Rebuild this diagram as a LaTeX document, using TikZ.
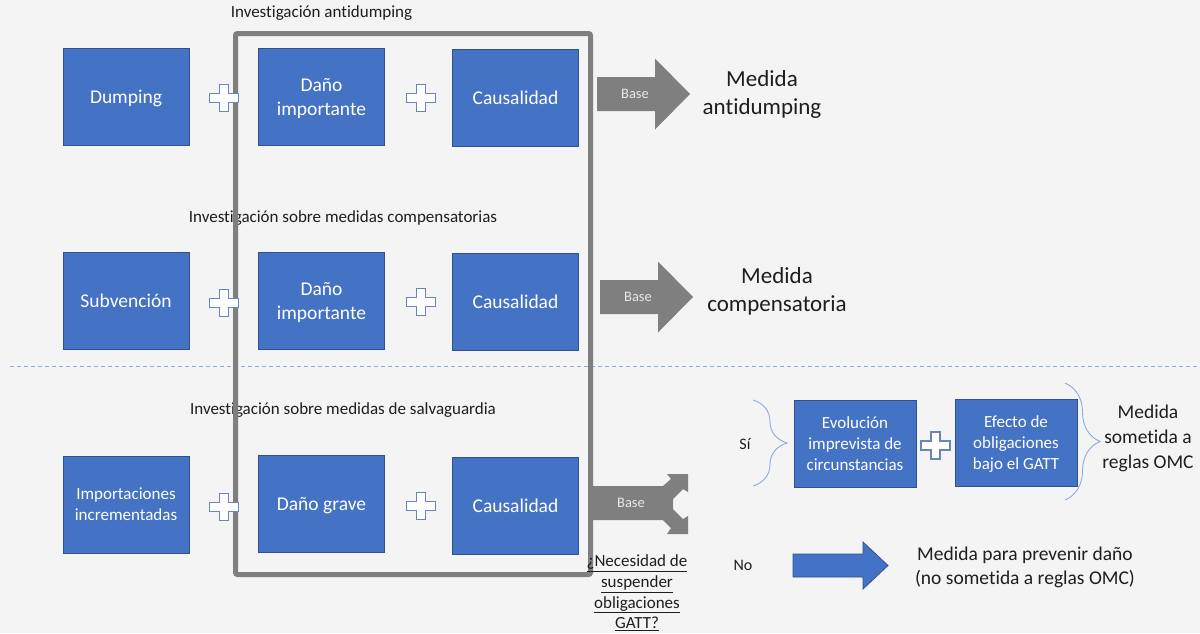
\documentclass[tikz,border=0pt]{standalone}
\usepackage{fontspec}
\setmainfont{Carlito}[Ligatures={TeX,NoCommon}]
\usetikzlibrary{decorations.pathreplacing}
\definecolor{B}{RGB}{68,114,196}
\definecolor{D}{RGB}{47,82,143}
\definecolor{G}{RGB}{127,127,127}
\definecolor{P}{RGB}{105,133,188}
\definecolor{L}{RGB}{143,170,220}
\definecolor{T}{RGB}{30,30,30}
\definecolor{W}{RGB}{244,244,244}
\definecolor{S}{RGB}{232,232,232}
\newcommand{\fsize}[2]{\fontsize{#1}{#2}\selectfont}
\newcommand{\plussign}[2]{\draw[plus] (#1-14.5,#2-4.5)--++(10,0)--++(0,-9)--++(9,0)--++(0,9)--++(10,0)--++(0,9)--++(-10,0)--++(0,9)--++(-9,0)--++(0,-9)--++(-10,0)--cycle;}
\newcommand{\basearrow}[3]{\fill[G] (#1,#2-17)--++(58,0)--++(0,-18.5)--++(35,35.5)--++(-35,35.5)--++(0,-18.5)--++(-58,0)--cycle;
  \node[base] (#3) at (#1+38,#2) {Base};}

\begin{document}
\begin{tikzpicture}[x=1pt,y=-1pt,
  box/.style={draw=D, line width=0.8pt, fill=B, text=white, align=center, inner sep=0pt, text depth=0pt,
    minimum width=126pt, minimum height=97pt, font=\fsize{19.5}{24}},
  smallbox/.style={box, minimum width=122pt, minimum height=87pt, font=\fsize{17}{21}},
  plus/.style={draw=P, fill=white, line width=1.1pt},
  base/.style={text=S, font=\fsize{14.5}{17}},
  label/.style={text=T, align=center, inner sep=0pt, text depth=0pt},
  curly/.style={draw=L, line width=0.9pt, decorate, decoration={brace, amplitude=#1}}]
\useasboundingbox (0,0) rectangle (1200,633);
\fill[W] (0,0) rectangle (1200,633);
% investigaciones
\node[label, font=\fsize{17}{20}] (inv1) at (321.5,12) {Investigación antidumping};
\node[label, font=\fsize{17}{20}] (inv2) at (343,217) {Investigación sobre medidas compensatorias};
\node[label, font=\fsize{17}{20}] (inv3) at (343,409) {Investigación sobre medidas de salvaguardia};
\draw[L, line width=0.8pt, dash pattern=on 4pt off 3pt] (10,366)--(1200,366);
\draw[G, line width=5pt, rounded corners=2pt] (235.5,33.5) rectangle (590.5,574.5);
% fila 1
\node[box] (dump) at (126,96.5) {Dumping};
\node[box] (dano1) at (321.5,97) {Daño\\importante};
\node[box] (caus1) at (515.5,97.5) {Causalidad};
\plussign{224}{98}\plussign{421}{98}
\basearrow{597}{94}{base1}
\node[label, font=\fsize{23}{28}] (med1) at (762,93) {Medida\\antidumping};
% fila 2
\node[box] (subv) at (126,301) {Subvención};
\node[box] (dano2) at (321.5,301) {Daño\\importante};
\node[box] (caus2) at (515.5,301.5) {Causalidad};
\plussign{224}{303}\plussign{421}{302}
\basearrow{600}{297}{base2}
\node[label, font=\fsize{23}{28}] (med2) at (777,290) {Medida\\compensatoria};
% fila 3
\node[box, font=\fsize{17}{21}] (impo) at (126,504.5) {Importaciones\\incrementadas};
\node[box] (grave) at (321.5,503.5) {Daño grave};
\node[box] (caus3) at (515.5,505.5) {Causalidad};
\plussign{224}{507}\plussign{421}{506}
\fill[G] (591,486)--(663,486)--(671,479)--(667,474)--(688,474)--(688,492)--(683,489)--(673,499)--(673,509)--(683,519)--(688,516)--(688,534)--(667,534)--(671,528)--(663,520)--(591,520)--cycle;
\node[base] (base3) at (631,503) {Base};
\node[label, font=\fsize{17}{20.7}] (nece) at (637,592) {\underline{¿Necesidad de}\\\underline{suspender}\\\underline{obligaciones}\\\underline{GATT?}};
% si
\node[label, font=\fsize{16}{19}] (si) at (745,444) {Sí};
\draw[curly=34pt] (753,400)--(753,486);
\node[smallbox] (evol) at (855,444) {Evolución\\imprevista de\\circunstancias};
\node[smallbox] (efec) at (1016,443) {Efecto de\\obligaciones\\bajo el GATT};
\plussign{935.5}{445.5}
\draw[curly=35pt] (1065,383)--(1065,500);
\node[label, font=\fsize{19.5}{25}] (med3) at (1148,437) {Medida\\sometida a\\reglas OMC};
% no
\node[label, font=\fsize{16}{19}] (no) at (743,565) {No};
\draw[D, fill=B, line width=0.8pt] (793,554)--++(70,0)--++(0,-12)--++(25,23.5)--++(-25,23.5)--++(0,-12)--++(-70,0)--cycle;
\node[label, font=\fsize{19.5}{24}] (med4) at (1025,566) {Medida para prevenir daño\\(no sometida a reglas OMC)};
\end{tikzpicture}
\end{document}
